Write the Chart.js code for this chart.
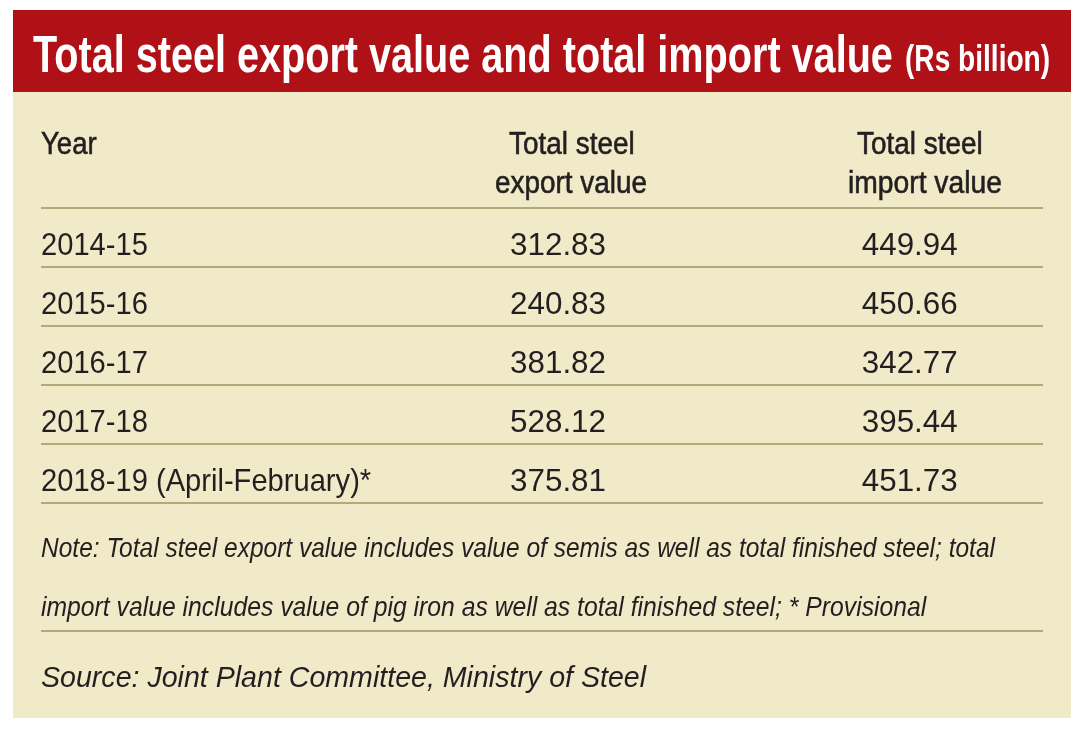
<!DOCTYPE html>
<html>
<head>
<meta charset="utf-8">
<script src="https://cdn.jsdelivr.net/npm/chart.js@4.4.1/dist/chart.umd.min.js"></script>
<style>
    html, body { margin: 0; padding: 0; background: #ffffff; }
    #page { position: relative; width: 1087px; height: 738px; overflow: hidden; }
    #box { position: absolute; left: 13px; top: 10px; width: 1058px; height: 708px; background: #f0eac8; }
    #banner { position: absolute; left: 13px; top: 10px; width: 1058px; height: 82px; background: #b01116; }
    .txt {
        position: absolute; white-space: nowrap; line-height: 0; height: 0;
        transform-origin: 0 0; color: #231f20;
        font-family: 'Liberation Sans', Arial, sans-serif;
    }
    .title { color: #ffffff; font-weight: bold; font-family: 'Liberation Sans Narrow', 'Liberation Sans', sans-serif; }
    .head { -webkit-text-stroke: 0.6px #231f20; }
    .note { font-style: italic; }
    .rule { position: absolute; height: 2px; background: #b0ab7c; }
    #chartWrap { position: absolute; left: 0; top: 0; width: 1087px; height: 738px; }
</style>
</head>
<body>
<div id="page">
    <div id="box"></div>
    <div id="banner"></div>
    <div class="rule" style="left:41px; top:630px; width:1002px;"></div>
    <div id="chartWrap"><canvas id="table"></canvas></div>
</div>
<script>
// Данные таблицы
const years = ['2014-15', '2015-16', '2016-17', '2017-18', '2018-19 (April-February)*'];
const exportValues = [312.83, 240.83, 381.82, 528.12, 375.81];
const importValues = [449.94, 450.66, 342.77, 395.44, 451.73];
const columnHeaders = [['Year'], ['Total steel', 'export value'], ['Total steel', 'import value']];

const titleMain = 'Total steel export value and total import value';
const titleUnit = '(Rs billion)';
const noteLines = [
    'Note: Total steel export value includes value of semis as well as total finished steel; total',
    'import value includes value of pig iron as well as total finished steel; * Provisional'
];
const sourceText = 'Source: Joint Plant Committee, Ministry of Steel';

// Разметка (пиксели страницы)
const TABLE = { left: 41, right: 1043, top: 208, bottom: 503 };
const VALUE_COL_X = [0.516, 0.867]; // доля ширины таблицы
const TEXT_COLOR = '#231f20';
const RULE_COLOR = '#b0ab7c';

/**
 * Текст вне таблицы: заголовок, шапка, примечания
 */
function buildTexts() {
    const page = document.getElementById('page');
    const specs = [
        { text: titleMain, x: 33, w: 860, base: 72, size: 52, cls: 'title' },
        { text: titleUnit, x: 905, w: 145, base: 72, size: 37, cls: 'title' },
        { text: columnHeaders[0][0], x: 41, w: 56, base: 155, size: 31, cls: 'head' },
        { text: columnHeaders[1][0], cx: 572, w: 126, base: 155, size: 31, cls: 'head' },
        { text: columnHeaders[1][1], cx: 571, w: 152, base: 194, size: 31, cls: 'head' },
        { text: columnHeaders[2][0], cx: 920, w: 126, base: 155, size: 31, cls: 'head' },
        { text: columnHeaders[2][1], cx: 925, w: 154, base: 194, size: 31, cls: 'head' },
        { text: noteLines[0], x: 41, w: 954, base: 558, size: 28, cls: 'note' },
        { text: noteLines[1], x: 41, w: 885, base: 617, size: 28, cls: 'note' },
        { text: sourceText, x: 41, w: 605, base: 687, size: 29, cls: 'note' }
    ];
    
    const els = specs.map(s => {
        const el = document.createElement('div');
        el.className = 'txt ' + s.cls;
        el.textContent = s.text;
        el.style.fontSize = s.size + 'px';
        el.style.left = (s.x !== undefined ? s.x : s.cx - s.w / 2) + 'px';
        // при line-height: 0 базовая линия на 0.3465em ниже top
        el.style.top = (s.base - 0.3465 * s.size) + 'px';
        page.appendChild(el);
        return { el: el, w: s.w };
    });
    
    const fit = () => els.forEach(o => {
        const natural = o.el.offsetWidth;
        if (natural > 0) o.el.style.transform = 'scaleX(' + (o.w / natural) + ')';
    });
    fit();
    if (document.fonts) document.fonts.ready.then(fit);
}

/**
 * Плагин: подписи ячеек таблицы
 */
const cellTextPlugin = {
    id: 'cellText',
    afterDatasetsDraw(chart) {
        const ctx = chart.ctx;
        const yScale = chart.scales.y;
        const area = chart.chartArea;
        
        ctx.save();
        ctx.fillStyle = TEXT_COLOR;
        ctx.font = '32px "Liberation Sans", Arial, sans-serif';
        ctx.textBaseline = 'alphabetic';
        
        // Годы
        ctx.textAlign = 'left';
        years.forEach((label, i) => {
            const y = yScale.getPixelForValue(i) + 17.5;
            ctx.save();
            ctx.translate(area.left, y);
            ctx.scale(0.91, 1);
            ctx.fillText(label, 0, 0);
            ctx.restore();
        });
        
        // Значения
        ctx.textAlign = 'center';
        chart.data.datasets.forEach((ds, di) => {
            const meta = chart.getDatasetMeta(di);
            meta.data.forEach((pt, i) => {
                ctx.save();
                ctx.translate(pt.x, pt.y + 17.5);
                ctx.scale(0.98, 1);
                ctx.fillText(ds.values[i].toFixed(2), 0, 0);
                ctx.restore();
            });
        });
        ctx.restore();
    }
};

function initTable() {
    const canvas = document.getElementById('table');
    const W = 1087, H = 738;
    
    new Chart(canvas, {
        type: 'scatter',
        data: {
            datasets: [{
                label: 'Total steel export value',
                values: exportValues,
                data: years.map(y => ({ x: VALUE_COL_X[0], y: y })),
                pointRadius: 0
            }, {
                label: 'Total steel import value',
                values: importValues,
                data: years.map(y => ({ x: VALUE_COL_X[1], y: y })),
                pointRadius: 0
            }]
        },
        options: {
            responsive: true,
            maintainAspectRatio: false,
            animation: false,
            events: [],
            layout: {
                padding: {
                    left: TABLE.left,
                    right: W - TABLE.right,
                    top: TABLE.top,
                    bottom: H - TABLE.bottom
                }
            },
            plugins: {
                legend: { display: false },
                tooltip: { enabled: false },
                title: { display: false }
            },
            scales: {
                x: {
                    type: 'linear',
                    min: 0,
                    max: 1,
                    display: false
                },
                y: {
                    type: 'category',
                    labels: years,
                    offset: true,
                    border: { display: false },
                    ticks: { display: false },
                    grid: {
                        offset: true,
                        drawTicks: false,
                        color: RULE_COLOR,
                        lineWidth: 2
                    }
                }
            }
        },
        plugins: [cellTextPlugin]
    });
}

buildTexts();
initTable();
</script>
</body>
</html>
